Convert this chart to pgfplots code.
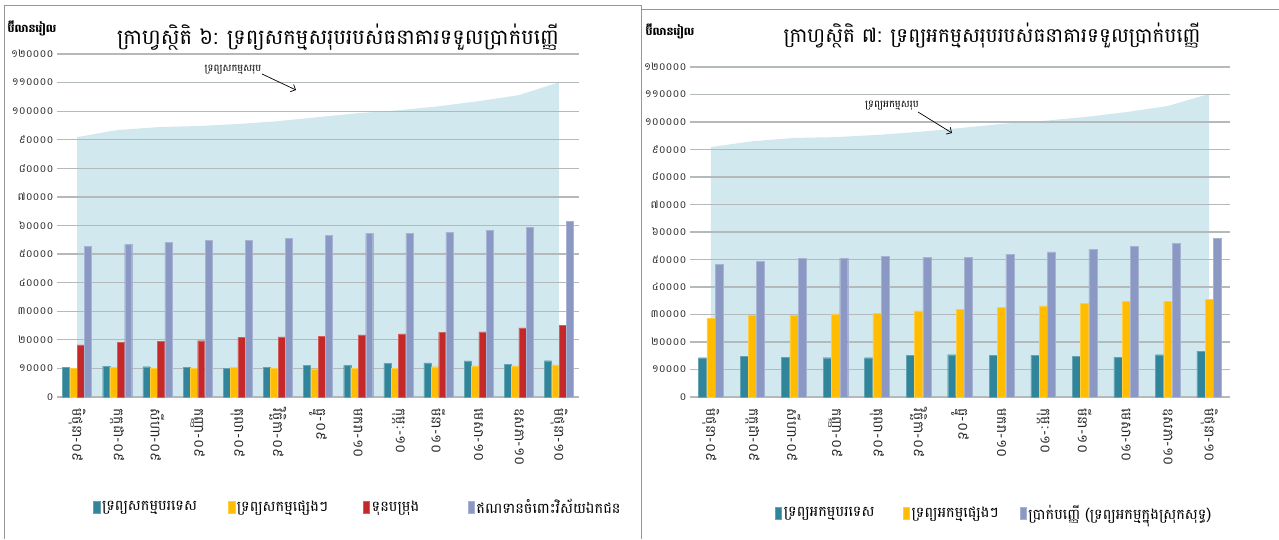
\documentclass[border=0pt]{standalone}
\usepackage{fontspec}
\setmainfont[Script=Khmer]{Battambang}
\usepackage{pgfplots}
\usepackage{pgfplotstable}
\pgfplotsset{compat=1.18}
\usetikzlibrary{arrows.meta}

\definecolor{cTeal}{RGB}{49,133,155}
\definecolor{cGold}{RGB}{255,188,0}
\definecolor{cRed}{RGB}{196,40,40}
\definecolor{cLav}{RGB}{139,152,196}
\definecolor{cArea}{RGB}{208,232,238}
\definecolor{cGrid}{RGB}{180,186,188}
\definecolor{cFrame}{RGB}{150,150,150}

% graph 6: assets (billion riel)
\pgfplotstableread{
x total fa oa res cred
0 90900 10400 10100 18200 52700
1 93400 10800 10400 19100 53400
2 94400 10600 10100 19500 54200
3 94800 10400 10100 19700 54700
4 95500 10100 10400 20900 54900
5 96500 10400 10100 21000 55400
6 97900 11100 9900 21200 56500
7 99300 11100 10100 21700 57200
8 100300 11700 10100 22100 57200
9 101700 11900 10600 22600 57700
10 103500 12600 10900 22800 58300
11 105600 11400 10900 24200 59300
12 110100 12700 11200 25100 61400
}\assetsix

% graph 7: liabilities (billion riel)
\pgfplotstableread{
x total fl ol dep
0 90900 14300 28700 48200
1 93000 14700 29600 49300
2 94200 14500 29600 50400
3 94500 14300 30200 50400
4 95300 14300 30400 51200
5 96400 15200 31300 50700
6 97800 15400 32000 50900
7 99300 15200 32700 52000
8 100400 15200 33100 52800
9 101800 14900 34100 53700
10 103600 14500 34700 54700
11 105800 15400 34900 55800
12 110200 16700 35600 57800
}\liabseven

\pgfplotsset{
  bank/.style={
    scale only axis, set layers,
    ymin=0, ymax=120000, xmin=-0.5, xmax=12.5,
    scaled y ticks=false,
    ytick={0,10000,20000,30000,40000,50000,60000,70000,80000,90000,100000,110000,120000},
    yticklabels={០,១០០០០,២០០០០,៣០០០០,៤០០០០,៥០០០០,៦០០០០,៧០០០០,៨០០០០,៩០០០០,១០០០០០,១១០០០០,១២០០០០},
    xtick={0,...,12},
    xticklabels={មិថុនា-០៩,កក្កដា-០៩,សីហា-០៩,កញ្ញា-០៩,តុលា-០៩,វិច្ឆិកា-០៩,ធ្នូ-០៩,មករា-១០,កុម្ភៈ-១០,មីនា-១០,មេសា-១០,ឧសភា-១០,មិថុនា-១០},
    axis line style={draw=none},
    major tick length=0pt,
    ymajorgrids, grid style={cGrid, line width=1.3pt},
    y tick label style={font=\fontsize{10.5}{12}\selectfont, text=black!85},
    x tick label style={font=\fontsize{14}{15}\selectfont, rotate=-90, anchor=west, text=black!85},
    xticklabel shift=8pt,
    legend style={draw=none, fill=none, inner sep=0pt,
      font=\fontsize{14.5}{15}\selectfont,
      /tikz/every even column/.append style={column sep=0pt}},
    legend image code/.code={\fill[##1] (0pt,-6pt) rectangle (6.5pt,6pt);},
  },
}

\begin{document}
\begin{tikzpicture}
\path (0,0) rectangle (1279pt,539pt);
\draw[cFrame, line width=0.8pt] (4pt,0.4pt) -- (4pt,534pt) -- (641pt,534pt) -- (641pt,0.4pt);
\draw[cFrame, line width=0.8pt] (641pt,530pt) -- (1278.6pt,530pt);

\begin{axis}[bank, at={(57pt,142pt)}, anchor=south west, width=522pt, height=343pt,
  legend columns=4,
  legend style={at={(0.069,-0.3207)}, anchor=west}]
\addplot[fill=cArea, draw=none, forget plot, on layer=axis background] table[x=x,y=total]{\assetsix} \closedcycle;
\addplot[ybar, bar width=7pt, bar shift=-11pt, fill=cTeal, draw=cTeal!75!white, line width=0.3pt] table[x=x,y=fa]{\assetsix};
\addlegendentry{\makebox[124pt][l]{ទ្រព្យសកម្មបរទេស}}
\addplot[ybar, bar width=7pt, bar shift=-3.7pt, fill=cGold, draw=cGold!75!white, line width=0.3pt] table[x=x,y=oa]{\assetsix};
\addlegendentry{\makebox[124pt][l]{ទ្រព្យសកម្មផ្សេងៗ}}
\addplot[ybar, bar width=7pt, bar shift=3.7pt, fill=cRed, draw=cRed!75!white, line width=0.3pt] table[x=x,y=res]{\assetsix};
\addlegendentry{\makebox[94pt][l]{ទុនបម្រុង}}
\addplot[ybar, bar width=7pt, bar shift=11pt, fill=cLav, draw=cLav!75!white, line width=0.3pt] table[x=x,y=cred]{\assetsix};
\addlegendentry{ឥណទានចំពោះវិស័យឯកជន}
\end{axis}

\begin{axis}[bank, at={(690pt,142pt)}, anchor=south west, width=540pt, height=330pt,
  legend columns=3,
  legend style={at={(0.157,-0.3515)}, anchor=west}]
\addplot[fill=cArea, draw=none, forget plot, on layer=axis background] table[x=x,y=total]{\liabseven} \closedcycle;
\addplot[ybar, bar width=8pt, bar shift=-8.3pt, fill=cTeal, draw=cTeal!75!white, line width=0.3pt] table[x=x,y=fl]{\liabseven};
\addlegendentry{\makebox[117pt][l]{ទ្រព្យអកម្មបរទេស}}
\addplot[ybar, bar width=8pt, bar shift=0pt, fill=cGold, draw=cGold!75!white, line width=0.3pt] table[x=x,y=ol]{\liabseven};
\addlegendentry{\makebox[106pt][l]{ទ្រព្យអកម្មផ្សេងៗ}}
\addplot[ybar, bar width=8pt, bar shift=8.3pt, fill=cLav, draw=cLav!75!white, line width=0.3pt] table[x=x,y=dep]{\liabseven};
\addlegendentry{ប្រាក់បញ្ញើ (ទ្រព្យអកម្មក្នុងស្រុកសុទ្ធ)}
\end{axis}

% titles and notes
\node[font=\fontsize{21}{24}\selectfont] at (338pt,502pt) {ក្រាហ្វស្ថិតិ ៦: ទ្រព្យសកម្មសរុបរបស់ធនាគារទទួលប្រាក់បញ្ញើ};
\node[font=\fontsize{20}{23}\selectfont] at (992pt,504pt) {ក្រាហ្វស្ថិតិ ៧: ទ្រព្យអកម្មសរុបរបស់ធនាគារទទួលប្រាក់បញ្ញើ};
\node[font=\fontsize{11}{12}\selectfont\bfseries] at (32pt,511pt) {ប៊ីលានរៀល};
\node[font=\fontsize{11}{12}\selectfont\bfseries] at (670pt,508pt) {ប៊ីលានរៀល};

\node[font=\fontsize{10}{11}\selectfont] at (233pt,469pt) {ទ្រព្យសកម្មសរុប};
\draw[-{Straight Barb[length=4pt]}, line width=0.7pt] (262pt,465pt) -- (296pt,449pt);
\node[font=\fontsize{10}{11}\selectfont] at (892pt,433pt) {ទ្រព្យអកម្មសរុប};
\draw[-{Straight Barb[length=4pt]}, line width=0.7pt] (918pt,427pt) -- (952pt,406pt);
\end{tikzpicture}
\end{document}
